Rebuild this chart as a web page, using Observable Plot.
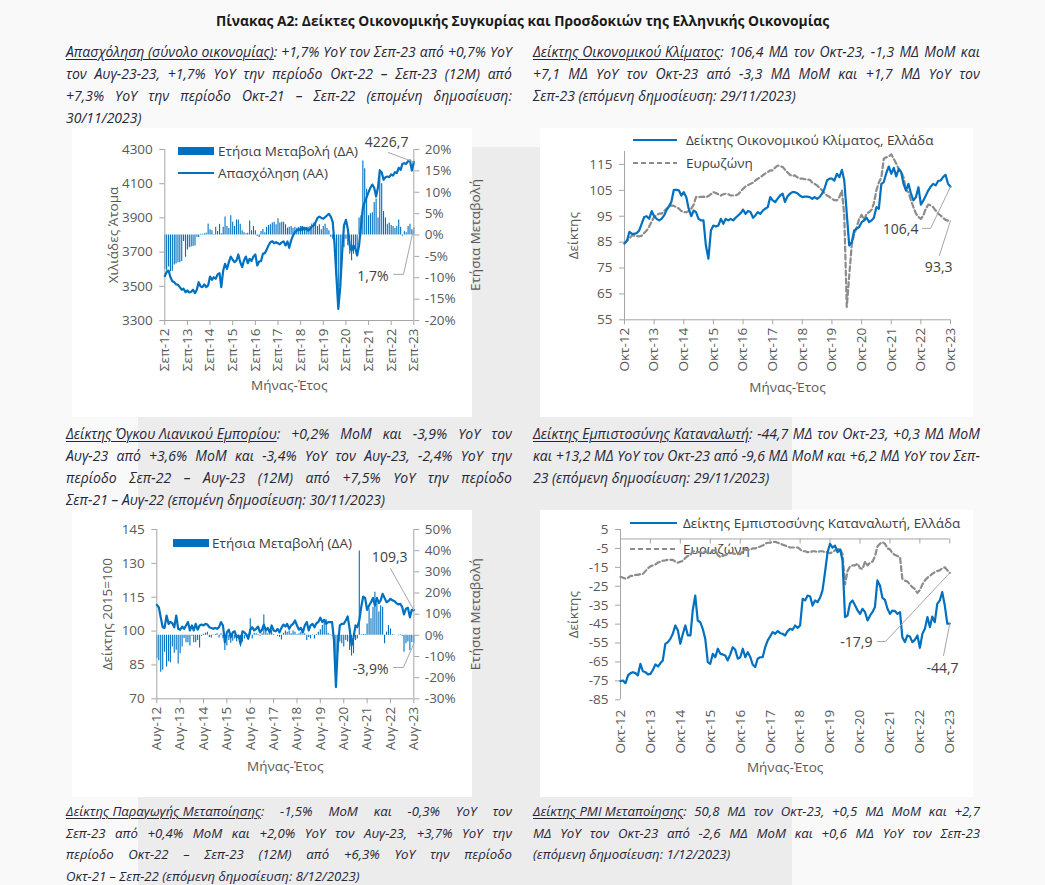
<!DOCTYPE html>
<html><head><meta charset="utf-8">
<script src="https://cdn.jsdelivr.net/npm/d3@7"></script>
<script src="https://cdn.jsdelivr.net/npm/@observablehq/plot@0.6"></script>
<style>
html,body{margin:0;padding:0}
body{width:1045px;height:885px;position:relative;overflow:hidden;background:#f9f9f9;font-family:"Open Sans",sans-serif}
.abs{position:absolute}
.gray{left:138px;top:147px;width:654px;height:738px;background:#ececec}
.panel{background:#fff}
.title{left:0;width:1045px;top:11px;text-align:center;font-weight:bold;font-size:13.8px;color:#1a1a1a}
.para{position:absolute;font-style:italic;color:#262638}
.pl{white-space:nowrap;display:flex;justify-content:space-between}
.pl.last{display:block}
.pl u{text-decoration-thickness:1px;text-underline-offset:2px}
.leg{position:absolute;font-size:13.5px;color:#404040;line-height:18px;white-space:nowrap}
.chart{position:absolute}
</style></head><body>
<div class="abs gray"></div>
<div class="abs panel" style="left:72px;top:128px;width:400px;height:289px"></div>
<div class="abs panel" style="left:540px;top:128px;width:433px;height:289px"></div>
<div class="abs panel" style="left:72px;top:510px;width:400px;height:287px"></div>
<div class="abs panel" style="left:540px;top:510px;width:433px;height:287px"></div>
<div class="abs title">Πίνακας Α2: Δείκτες Οικονομικής Συγκυρίας και Προσδοκιών της Ελληνικής Οικονομίας</div>
<div id="paras"></div>
<div id="legends"></div>
<div id="charts"></div>
<script>
// ---------- DATA ----------
const xTitle = "Μήνας-Έτος";
const ticksSep = ["Σεπ-12","Σεπ-13","Σεπ-14","Σεπ-15","Σεπ-16","Σεπ-17","Σεπ-18","Σεπ-19","Σεπ-20","Σεπ-21","Σεπ-22","Σεπ-23"];
const ticksOct = ["Οκτ-12","Οκτ-13","Οκτ-14","Οκτ-15","Οκτ-16","Οκτ-17","Οκτ-18","Οκτ-19","Οκτ-20","Οκτ-21","Οκτ-22","Οκτ-23"];
const ticksAug = ["Αυγ-12","Αυγ-13","Αυγ-14","Αυγ-15","Αυγ-16","Αυγ-17","Αυγ-18","Αυγ-19","Αυγ-20","Αυγ-21","Αυγ-22","Αυγ-23"];

// Chart 1: Employment (thousands, Sep-12..Sep-23) and YoY %
const employment = [
 3560,3583,3592,3553,3530,3524,3511,3509,3495,3480,3486,3466,
 3476,3464,3468,3480,3460,3482,3524,3499,3495,3511,3495,3505,
 3557,3538,3553,3544,3569,3577,3495,3592,3631,3602,3641,3674,
 3655,3641,3651,3686,3641,3612,3651,3674,3635,3661,3647,3674,
 3686,3622,3645,3647,3690,3694,3713,3739,3758,3764,3752,3758,
 3752,3745,3758,3762,3739,3762,3725,3768,3797,3817,3826,3836,
 3826,3846,3830,3842,3826,3836,3850,3856,3875,3900,3908,3900,
 3895,3904,3914,3924,3908,3875,3748,3554,3368,3495,3690,3856,
 3889,3836,3739,3709,3739,3719,3680,3739,3846,3959,3992,4021,
 4051,4076,4095,4076,4025,4080,4177,4167,4123,4138,4142,4138,
 4154,4148,4167,4162,4193,4181,4216,4220,4216,4232,4236,4177,
 4226.7];
const employmentYoY = [
 -8.0,-8.5,-7.5,-8.6,-8.5,-7.0,-6.8,-6.5,-6.5,-6.2,-1.5,-5.2,
 -3.5,-3.0,-2.8,-2.7,-2.6,-0.5,-0.6,0.2,0.2,0.3,0.4,2.6,
 1.2,1.0,0.1,1.8,0.8,2.5,0.3,1.8,4.2,2.0,1.5,4.5,
 3.0,2.0,3.5,3.5,2.5,1.0,0.5,0.3,0.4,3.3,1.0,2.0,
 1.0,-0.3,-0.6,0.8,1.3,0.5,1.8,2.2,2.4,2.8,3.0,2.4,
 3.8,2.8,3.0,3.0,2.4,1.6,1.8,2.0,1.6,1.8,1.6,1.8,
 2.0,1.5,1.8,1.6,1.8,2.0,2.6,2.8,2.6,2.0,2.4,1.2,
 2.0,2.5,1.5,1.0,-0.5,-1.0,-5.0,-10.0,-15.5,-12.0,-6.0,-3.0,
 -1.0,-2.5,-4.5,-6.0,-4.5,-3.5,-4.5,4.0,4.5,17.3,15.5,10.7,
 4.5,5.0,5.2,7.6,8.4,4.0,15.3,12.0,5.5,4.0,2.5,2.8,
 2.2,2.0,1.5,2.0,3.5,1.8,-0.3,0.8,0.5,2.0,2.5,1.2,
 1.7];

// Chart 2: Economic sentiment (Oct-12..Oct-23)
const esiGreece = [
 84.4,85.6,89.0,88.2,88.2,88.5,89.5,92.1,94.7,95.0,94.0,97.0,
 95.0,94.0,93.4,94.0,95.3,97.2,98.8,100.5,105.2,105.2,105.0,103.0,
 104.3,102.4,97.9,95.0,97.2,96.6,94.0,93.4,93.4,83.7,78.6,89.5,
 91.4,91.0,91.4,94.0,92.1,94.0,93.4,94.0,93.4,94.4,95.3,96.2,
 97.5,95.9,97.0,96.6,94.4,95.3,96.6,95.9,97.2,97.9,98.5,102.4,
 101.1,100.5,101.8,103.0,103.7,100.5,102.6,103.7,104.3,104.3,103.9,103.0,
 102.4,102.6,102.6,102.4,101.7,102.4,101.7,102.4,103.7,105.6,108.8,109.5,
 109.5,108.8,111.4,110.1,112.9,108.8,95.9,83.7,85.0,89.5,90.2,90.8,
 92.7,93.4,94.4,92.7,93.4,94.4,98.5,97.9,107.5,108.2,111.7,114.2,
 111.4,113.7,110.4,113.3,112.0,107.5,105.0,107.5,103.7,101.1,102.4,106.2,
 99.5,101.1,103.0,105.0,106.5,107.5,106.9,108.6,108.8,110.1,111.0,107.5,
 106.4];
const esiEurozone = [
 84.6,85.5,86.5,87.6,87.5,87.3,87.2,87.5,88.5,89.5,91.0,93.0,
 94.7,95.5,96.0,96.0,97.0,97.9,98.5,99.2,99.0,98.5,98.0,97.0,
 96.6,96.5,97.0,97.9,99.5,102.4,102.3,102.5,102.6,102.3,102.8,103.5,
 104.3,104.0,103.5,103.0,103.5,103.7,103.5,103.0,103.0,103.0,103.5,104.5,
 105.6,106.5,107.0,107.5,108.0,108.8,109.5,110.0,110.8,111.5,112.0,112.7,
 112.7,113.8,114.6,114.3,114.0,113.0,112.0,111.0,110.5,110.8,110.0,109.5,
 109.5,109.3,109.2,109.1,108.0,107.5,106.9,106.0,105.0,104.0,103.0,102.5,
 101.7,101.2,101.1,102.4,105.0,95.0,60.0,72.0,84.0,88.0,90.8,94.0,
 95.5,93.6,96.0,96.6,97.5,100.0,105.0,108.0,110.0,117.2,117.8,118.1,
 118.9,117.2,115.3,113.3,112.0,110.1,105.0,104.3,101.1,98.5,96.0,94.7,
 94.0,95.3,97.9,99.5,99.2,98.5,97.2,96.0,95.3,94.4,93.6,93.3,
 93.3];

// Chart 3: Retail trade volume index (2015=100, Aug-12..Aug-23) and YoY %
const retailIndex = [
 111.6,110.6,106.1,101.7,101.4,106.9,103.2,104.0,103.5,101.7,106.9,101.0,
 100.6,102.0,101.0,102.5,104.0,100.3,102.5,100.3,103.2,100.6,102.5,102.9,
 102.5,103.2,102.9,101.7,101.4,101.0,101.4,101.0,101.7,104.0,102.5,95.0,
 99.4,100.6,97.3,99.4,99.9,97.3,98.0,94.4,99.9,99.4,98.5,96.6,
 100.6,101.7,100.3,101.0,102.0,99.4,100.6,102.9,100.3,101.4,99.4,102.5,
 100.3,99.9,101.0,99.4,101.4,102.9,102.0,103.2,101.0,102.5,103.2,104.7,
 102.5,100.6,101.4,99.4,102.5,104.0,100.3,102.5,103.2,101.7,103.5,104.0,
 105.9,104.0,105.0,103.2,104.0,104.0,104.0,96.0,75.2,94.0,102.5,103.2,
 103.2,104.7,106.5,101.0,93.6,97.3,102.5,101.7,104.7,110.6,115.3,114.7,
 109.4,111.3,112.8,114.7,111.3,114.7,112.4,113.6,116.5,114.7,112.8,113.3,
 114.3,113.6,113.3,112.4,111.8,112.1,110.6,107.4,109.9,110.3,106.1,109.4,
 109.3];
const retailYoY = [
 -11.0,-12.0,-17.5,-16.5,-8.0,-15.0,-12.5,-13.0,-5.5,-8.5,-7.0,-13.5,
 -8.7,-5.5,-1.5,-3.5,-3.5,-5.0,-0.5,-3.5,-3.5,-2.5,-6.0,-0.5,
 0.5,1.0,1.5,-1.0,-1.3,0.2,0.4,0.7,-1.3,0.7,-1.5,-7.2,
 -5.0,-2.5,-3.7,-2.8,-1.7,-3.2,-1.7,-5.5,-3.2,-1.7,-0.5,-1.2,
 7.8,-1.7,1.0,0.7,0.4,-0.5,0.7,9.6,2.0,0.7,1.5,2.3,
 0.4,0.0,-0.5,-1.0,-2.2,1.0,2.0,1.5,2.0,0.7,2.0,1.5,
 0.4,0.7,1.5,0.4,0.7,-2.5,-1.0,-1.7,0.2,-1.7,0.4,1.5,
 2.6,4.6,7.0,7.3,1.0,0.3,-0.5,-5.0,-24.5,-8.0,-3.2,-4.0,
 -5.5,-2.5,-3.2,-7.2,-9.8,-8.7,-2.5,-1.7,39.8,0.3,0.5,0.4,
 5.4,12.5,7.8,13.3,20.4,14.9,11.0,14.0,13.3,-4.0,1.5,4.6,
 3.0,0.4,0.2,0.0,-0.2,0.3,-0.5,-8.0,-4.0,-3.2,-7.2,-3.4,
 -3.9];

// Chart 4: Consumer confidence (Oct-12..Oct-23)
const ccGreece = [
 -75.1,-74.8,-76.2,-72.1,-70.9,-70.4,-70.9,-72.1,-66.0,-69.9,-70.4,-71.6,
 -71.3,-69.1,-66.3,-67.4,-65.6,-64.2,-55.4,-54.5,-52.8,-50.1,-45.7,-48.4,
 -55.4,-50.1,-45.7,-51.0,-51.0,-37.8,-29.9,-43.1,-44.0,-47.5,-52.8,-65.1,
 -66.0,-60.7,-62.5,-58.0,-60.7,-61.0,-61.6,-64.2,-61.0,-57.2,-58.6,-63.3,
 -62.5,-58.0,-62.5,-59.8,-62.5,-66.3,-67.7,-63.3,-62.5,-62.5,-57.2,-53.6,
 -51.5,-49.2,-50.1,-48.7,-49.8,-50.1,-51.0,-48.7,-47.5,-48.0,-45.7,-47.0,
 -45.7,-31.6,-32.5,-29.9,-30.4,-35.2,-32.5,-33.4,-31.1,-27.2,-17.5,-7.0,
 -2.6,-4.6,-3.5,-7.0,-5.5,-11.4,-41.3,-40.5,-34.0,-32.5,-35.0,-37.8,
 -39.6,-36.9,-38.7,-43.1,-40.4,-38.7,-36.0,-21.9,-24.6,-31.1,-32.2,-36.9,
 -39.6,-37.8,-38.1,-39.6,-38.7,-51.9,-54.5,-51.0,-51.5,-54.5,-53.3,-51.0,
 -57.5,-50.1,-47.5,-41.3,-46.6,-41.0,-44.0,-34.3,-32.5,-28.1,-35.2,-44.8,
 -44.7];
const ccEurozone = [
 -20.0,-20.5,-21.0,-20.5,-19.5,-19.5,-19.0,-19.0,-18.5,-18.5,-17.0,-15.5,
 -14.5,-14.0,-13.5,-12.5,-12.0,-11.5,-11.3,-11.0,-11.0,-11.0,-12.0,-12.5,
 -12.0,-11.5,-10.0,-9.0,-8.5,-6.5,-6.5,-7.0,-7.0,-7.5,-6.5,-7.5,
 -7.5,-6.0,-6.0,-8.5,-9.5,-9.0,-8.5,-8.0,-7.5,-7.5,-8.0,-8.0,
 -8.0,-6.5,-5.5,-6.0,-5.5,-5.0,-5.0,-4.5,-4.0,-3.5,-2.5,-2.0,
 -2.0,-1.5,-1.5,-2.0,-2.5,-3.0,-3.5,-4.0,-4.5,-4.5,-4.5,-4.5,
 -5.5,-6.5,-6.5,-7.0,-7.0,-6.5,-6.5,-7.0,-6.5,-6.5,-7.0,-7.0,
 -7.5,-7.0,-6.0,-5.5,-5.2,-8.0,-24.0,-17.0,-14.5,-14.0,-14.0,-13.0,
 -15.5,-15.8,-12.0,-14.0,-12.5,-12.0,-9.3,-4.0,-2.5,-1.7,-2.5,-5.0,
 -5.5,-7.5,-8.5,-9.0,-9.8,-21.0,-22.0,-22.5,-24.0,-25.5,-26.5,-28.5,
 -27.0,-24.0,-22.0,-20.5,-19.5,-18.5,-17.5,-17.0,-16.5,-15.5,-15.0,-16.5,
 -17.9];

// Annotations: [month index, value] pairs
const note1Line = {text:"4226,7", at:[129.2, 4341], leader:[[118.6,4282],[132,4226.7]]};
const note1Bar = {text:"1,7%", at:[118.6, -9.7], leader:[[121.3,-9.2],[126.6,-9.2],[132,1.7]]};
const note2Gr = {text:"106,4", at:[119.0, 89.9], leader:[[120.6,90.3],[123.9,90.3],[132,106.4]]};
const note2Ez = {text:"93,3", at:[132.8, 75.2], leader:[[127.5,79.8],[132,93.3]]};
const note3Line = {text:"109,3", at:[128.8, 132.6], leader:[[120,127.7],[132,109.3]]};
const note3Bar = {text:"-3,9%", at:[119.0, -16.2], leader:[[121.5,-15.2],[126.7,-15.2],[132,-3.9]]};
const note4Ez = {text:"-17,9", at:[101.0, -54.7], leader:[[103,-54.2],[106.2,-54.2],[132,-17.9]]};
const note4Gr = {text:"-44,7", at:[135.5, -68.5], leader:[[129.5,-61.6],[132,-44.7]]};

// Paragraph texts (__underlined__)
const paraTL = ["__Απασχόληση (σύνολο οικονομίας)__: +1,7% YoY τον Σεπ-23 από +0,7% YoY",
 "τον Αυγ-23-23, +1,7% YoY την περίοδο Οκτ-22 – Σεπ-23 (12M) από",
 "+7,3% YoY την περίοδο Οκτ-21 – Σεπ-22 (επομένη δημοσίευση:",
 "30/11/2023)"];
const paraTR = ["__Δείκτης Οικονομικού Κλίματος__: 106,4 ΜΔ τον Οκτ-23, -1,3 ΜΔ ΜοΜ και",
 "+7,1 ΜΔ YoY τον Οκτ-23 από -3,3 ΜΔ ΜοΜ και +1,7 ΜΔ YoY τον",
 "Σεπ-23 (επόμενη δημοσίευση: 29/11/2023)"];
const paraML = ["__Δείκτης Όγκου Λιανικού Εμπορίου__: +0,2% ΜοΜ και -3,9% YoY τον",
 "Αυγ-23 από +3,6% ΜοΜ και -3,4% YoY τον Αυγ-23, -2,4% YoY την",
 "περίοδο Σεπ-22 – Αυγ-23 (12M) από +7,5% YoY την περίοδο",
 "Σεπ-21 – Αυγ-22 (επομένη δημοσίευση: 30/11/2023)"];
const paraMR = ["__Δείκτης Εμπιστοσύνης Καταναλωτή__: -44,7 ΜΔ τον Οκτ-23, +0,3 ΜΔ ΜοΜ",
 "και +13,2 ΜΔ YoY τον Οκτ-23 από -9,6 ΜΔ ΜοΜ και +6,2 ΜΔ YoY τον Σεπ-",
 "23 (επόμενη δημοσίευση: 29/11/2023)"];
const paraBL = ["__Δείκτης Παραγωγής Μεταποίησης__: -1,5% ΜοΜ και -0,3% YoY τον",
 "Σεπ-23 από +0,4% ΜοΜ και +2,0% YoY τον Αυγ-23, +3,7% YoY την",
 "περίοδο Οκτ-22 – Σεπ-23 (12M) από +6,3% YoY την περίοδο",
 "Οκτ-21 – Σεπ-22 (επόμενη δημοσίευση: 8/12/2023)"];
const paraBR = ["__Δείκτης PMI Μεταποίησης__: 50,8 ΜΔ τον Οκτ-23, +0,5 ΜΔ ΜοΜ και +2,7",
 "ΜΔ YoY τον Οκτ-23 από -2,6 ΜΔ ΜοΜ και +0,6 ΜΔ YoY τον Σεπ-23",
 "(επόμενη δημοσίευση: 1/12/2023)"];

// ---------- helpers ----------
const BLUE = "#0070C0", GRAYD = "#8c8c8c", AXIS = "#a6a6a6", TXT = "#595959", NOTE = "#404040", LEAD = "#a6a6a6";
const FS = 13.5;
function monthDates(y, m, n){ return Array.from({length:n}, (_, i) => new Date(Date.UTC(y, m + i, 1))); }
function fracDate(y, m, idx){ const k = Math.floor(idx); const a = Date.UTC(y, m+k, 1), b = Date.UTC(y, m+k+1, 1); return new Date(a + (idx-k)*(b-a)); }
const style = {background:"transparent", fontFamily:"Open Sans", fontSize:FS+"px", color:TXT, overflow:"visible"};

function tokens(s){ const out=[]; const re=/__(.+?)__(\S*)|(\S+)/g; let m; while((m=re.exec(s))){ out.push(m[1] ? `<u>${m[1]}</u>${m[2]}` : m[3]); } return out; }
function para(lines, x, y, w, lh, fs){
  const box = document.createElement("div"); box.className = "para";
  box.style.left = x+"px"; box.style.top = y+"px"; box.style.width = w+"px"; box.style.lineHeight = lh+"px"; box.style.fontSize = fs+"px";
  document.getElementById("paras").appendChild(box);
  lines.forEach((ln, k) => {
    const d = document.createElement("div");
    const last = k === lines.length - 1;
    d.className = "pl" + (last ? " last" : "");
    const t = tokens(ln);
    d.innerHTML = last ? t.join(" ") : t.map(s => `<span>${s}</span>`).join("");
    box.appendChild(d);
    if (!last) {
      const spans = [...d.children];
      const need = spans.reduce((s, e) => s + e.getBoundingClientRect().width, 0) + (spans.length - 1) * fs * 0.26;
      if (need > w) d.style.fontSize = (fs * w / need) + "px";
    }
  });
}
para(paraTL, 66, 41, 446, 22, 14);
para(paraTR, 533, 41, 447, 22, 14);
para(paraML, 66, 423, 446, 22, 14);
para(paraMR, 533, 423, 447, 22, 14);
para(paraBL, 66, 801, 446, 21.7, 13.2);
para(paraBR, 533, 801, 447, 21.7, 13.2);

function legend(html, x, y){ const d = document.createElement("div"); d.className = "leg"; d.style.left = x+"px"; d.style.top = (y-9)+"px"; d.innerHTML = html; document.getElementById("legends").appendChild(d); }
const swRect = `<svg width="36" height="8" style="position:absolute;left:0;top:5px"><rect width="36" height="8" fill="${BLUE}"/></svg>`;
const swLine = (c, dash, w) => `<svg width="${w}" height="4" style="position:absolute;left:0;top:7px"><line x1="0" x2="${w}" y1="2" y2="2" stroke="${c}" stroke-width="2.2" ${dash?'stroke-dasharray="5,3"':''}/></svg>`;
function legItem(sw, swW, text, x, y){ legend(`<div style="position:relative;padding-left:${swW}px">${sw}${text}</div>`, x, y); }
legItem(swRect, 40, "Ετήσια Μεταβολή (ΔΑ)", 178, 151);
legItem(swLine(BLUE,false,36), 40, "Απασχόληση (ΑΑ)", 178, 173);
legItem(swLine(BLUE,false,44), 53, "Δείκτης Οικονομικού Κλίματος, Ελλάδα", 633, 140);
legItem(swLine(GRAYD,true,44), 53, "Ευρωζώνη", 633, 163);
legItem(swRect, 39, "Ετήσια Μεταβολή (ΔΑ)", 173, 543);
legItem(swLine(BLUE,false,47), 53, "Δείκτης Εμπιστοσύνης Καταναλωτή, Ελλάδα", 630, 523);
legItem(swLine(GRAYD,true,47), 53, "Ευρωζώνη", 630, 549);

function place(svg, x, y){ svg.classList.add("chart"); svg.style.position="absolute"; svg.style.left=x+"px"; svg.style.top=y+"px"; document.getElementById("charts").appendChild(svg); }
function tickMap(dates, labels){ const m = new Map(); labels.forEach((l,i)=>m.set(+dates[i*12], l)); return m; }
function noteMarks(note, y0, m0){
  const pts = note.leader.map(([i,v]) => ({d: fracDate(y0, m0, i), v}));
  return [
    Plot.line(pts, {x:"d", y:"v", stroke:LEAD, strokeWidth:1}),
    Plot.text([note], {x: n => fracDate(y0, m0, n.at[0]), y: n => n.at[1], text: "text", textAnchor:"end", fill:NOTE, fontSize:14})
  ];
}
const titleOpts = (anchor, dx) => ({frameAnchor:anchor, dx, rotate:-90, textAnchor:"middle", fill:TXT, fontSize:FS});
const xTitleOpts = (dy) => ({frameAnchor:"bottom", dy, textAnchor:"middle", fill:TXT, fontSize:FS});

// ---------- Chart 1 ----------
{
  const dates = monthDates(2012, 8, 133);
  const data = dates.map((date,i)=>({date, emp:employment[i], yoy:employmentYoY[i]}));
  const tm = tickMap(dates, ticksSep);
  const tickDates = ticksSep.map((_,i)=>dates[i*12]);
  const common = {width:440, height:270, marginLeft:104.3, marginRight:86.7, marginTop:19, marginBottom:80, style};
  const bars = Plot.plot({...common,
    x:{type:"utc", domain:[dates[0], dates[132]], axis:null},
    y:{domain:[-20,20]},
    marks:[
      Plot.ruleX(data, {x:"date", y1:0, y2:"yoy", stroke:BLUE, strokeWidth:1.1}),
      Plot.ruleX([dates[132]], {stroke:AXIS}),
      Plot.axisY({anchor:"right", ticks:[-20,-15,-10,-5,0,5,10,15,20], tickFormat:d=>d+"%", tickSize:5, tickPadding:6, stroke:AXIS, fill:TXT, label:null}),
      Plot.text(["Ετήσια Μεταβολή"], titleOpts("right", 62)),
      ...noteMarks(note1Bar, 2012, 8)
    ]});
  const lines = Plot.plot({...common,
    x:{type:"utc", domain:[dates[0], dates[132]]},
    y:{domain:[3300,4300]},
    marks:[
      Plot.ruleX([dates[0]], {stroke:AXIS}),
      Plot.ruleY([3300], {stroke:AXIS}),
      Plot.axisY({anchor:"left", ticks:[3300,3500,3700,3900,4100,4300], tickFormat:d=>String(d), tickSize:5, tickPadding:7, stroke:AXIS, fill:TXT, label:null}),
      Plot.axisX({ticks:tickDates, tickFormat:d=>tm.get(+d), tickRotate:-90, tickSize:5, tickPadding:3, stroke:AXIS, fill:TXT, label:null}),
      Plot.lineY(data, {x:"date", y:"emp", stroke:BLUE, strokeWidth:2.2}),
      Plot.text(["Χιλιάδες Άτομα"], titleOpts("left", -51)),
      Plot.text([xTitle], xTitleOpts(69)),
      ...noteMarks(note1Line, 2012, 8)
    ]});
  place(bars, 60, 130); place(lines, 60, 130);
}

// ---------- Chart 2 ----------
{
  const dates = monthDates(2012, 9, 133);
  const data = dates.map((date,i)=>({date, gr:esiGreece[i], ez:esiEurozone[i]}));
  const tm = tickMap(dates, ticksOct);
  const tickDates = ticksOct.map((_,i)=>dates[i*12]);
  const p = Plot.plot({width:450, height:270, marginLeft:94, marginRight:30, marginTop:21, marginBottom:80.7, style,
    x:{type:"utc", domain:[dates[0], dates[132]]},
    y:{domain:[55,120]},
    marks:[
      Plot.ruleX([dates[0]], {stroke:AXIS}),
      Plot.ruleY([55], {stroke:AXIS}),
      Plot.axisY({anchor:"left", ticks:[55,65,75,85,95,105,115], tickFormat:d=>String(d), tickSize:5, tickPadding:7, stroke:AXIS, fill:TXT, label:null}),
      Plot.axisX({ticks:tickDates, tickFormat:d=>tm.get(+d), tickRotate:-90, tickSize:5, tickPadding:3, stroke:AXIS, fill:TXT, label:null}),
      Plot.lineY(data, {x:"date", y:"ez", stroke:GRAYD, strokeWidth:2.2, strokeDasharray:"5,3"}),
      Plot.lineY(data, {x:"date", y:"gr", stroke:BLUE, strokeWidth:2.2}),
      Plot.text(["Δείκτης"], titleOpts("left", -51)),
      Plot.text([xTitle], xTitleOpts(72)),
      ...noteMarks(note2Gr, 2012, 9),
      ...noteMarks(note2Ez, 2012, 9)
    ]});
  place(p, 530, 130);
}

// ---------- Chart 3 ----------
{
  const dates = monthDates(2012, 7, 133);
  const data = dates.map((date,i)=>({date, idx:retailIndex[i], yoy:retailYoY[i]}));
  const tm = tickMap(dates, ticksAug);
  const tickDates = ticksAug.map((_,i)=>dates[i*12]);
  const common = {width:440, height:270, marginLeft:96.3, marginRight:86.7, marginTop:19, marginBottom:81.7, style};
  const bars = Plot.plot({...common,
    x:{type:"utc", domain:[dates[0], dates[132]], axis:null},
    y:{domain:[-30,50]},
    marks:[
      Plot.ruleX(data, {x:"date", y1:0, y2:"yoy", stroke:BLUE, strokeWidth:1.1}),
      Plot.ruleX([dates[132]], {stroke:AXIS}),
      Plot.axisY({anchor:"right", ticks:[-30,-20,-10,0,10,20,30,40,50], tickFormat:d=>d+"%", tickSize:5, tickPadding:6, stroke:AXIS, fill:TXT, label:null}),
      Plot.text(["Ετήσια Μεταβολή"], titleOpts("right", 62)),
      ...noteMarks(note3Bar, 2012, 7)
    ]});
  const lines = Plot.plot({...common,
    x:{type:"utc", domain:[dates[0], dates[132]]},
    y:{domain:[70,145]},
    marks:[
      Plot.ruleX([dates[0]], {stroke:AXIS}),
      Plot.ruleY([70], {stroke:AXIS}),
      Plot.axisY({anchor:"left", ticks:[70,85,100,115,130,145], tickFormat:d=>String(d), tickSize:5, tickPadding:7, stroke:AXIS, fill:TXT, label:null}),
      Plot.axisX({ticks:tickDates, tickFormat:d=>tm.get(+d), tickRotate:-90, tickSize:5, tickPadding:3, stroke:AXIS, fill:TXT, label:null}),
      Plot.lineY(data, {x:"date", y:"idx", stroke:BLUE, strokeWidth:2.2}),
      Plot.text(["Δείκτης 2015=100"], titleOpts("left", -49)),
      Plot.text([xTitle], xTitleOpts(72)),
      ...noteMarks(note3Line, 2012, 7)
    ]});
  place(bars, 60, 510); place(lines, 60, 510);
}

// ---------- Chart 4 ----------
{
  const dates = monthDates(2012, 9, 133);
  const data = dates.map((date,i)=>({date, gr:ccGreece[i], ez:ccEurozone[i]}));
  const tm = tickMap(dates, ticksOct);
  const tickDates = ticksOct.map((_,i)=>dates[i*12]);
  const p = Plot.plot({width:450, height:270, marginLeft:90, marginRight:30.7, marginTop:19, marginBottom:80.7, style,
    x:{type:"utc", domain:[dates[0], dates[132]]},
    y:{domain:[-85,5]},
    marks:[
      Plot.ruleX([dates[0]], {stroke:AXIS}),
      Plot.ruleY([0], {stroke:AXIS}),
      Plot.ruleX(tickDates, {y1:0, y2:-2.7, stroke:AXIS}),
      Plot.axisY({anchor:"left", ticks:[-85,-75,-65,-55,-45,-35,-25,-15,-5,5], tickFormat:d=>String(d), tickSize:5, tickPadding:7, stroke:AXIS, fill:TXT, label:null}),
      Plot.axisX({ticks:tickDates, tickFormat:d=>tm.get(+d), tickRotate:-90, tickSize:0, tickPadding:10, fill:TXT, label:null}),
      Plot.lineY(data, {x:"date", y:"ez", stroke:GRAYD, strokeWidth:2.2, strokeDasharray:"5,3"}),
      Plot.lineY(data, {x:"date", y:"gr", stroke:BLUE, strokeWidth:2.2}),
      Plot.text(["Δείκτης"], titleOpts("left", -47)),
      Plot.text([xTitle], xTitleOpts(72)),
      ...noteMarks(note4Ez, 2012, 9),
      ...noteMarks(note4Gr, 2012, 9)
    ]});
  place(p, 530, 510);
}
</script>
</body></html>
